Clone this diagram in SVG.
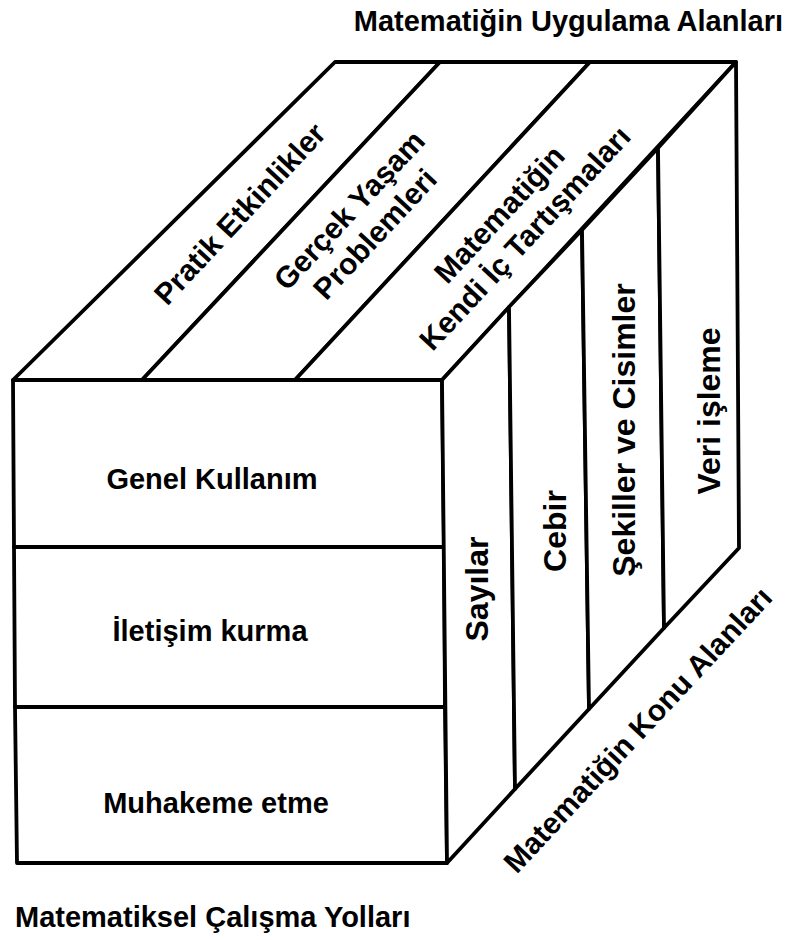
<svg xmlns="http://www.w3.org/2000/svg" width="791" height="940" viewBox="0 0 791 940">
<style>
.f{fill:#fff;stroke:#000;stroke-width:3.8;stroke-linejoin:round}
text{font-family:"Liberation Sans",Arial,Helvetica,sans-serif;font-weight:bold;fill:#000;font-size:29px}
.c{text-anchor:middle}
.r{font-size:32px}
.t{font-size:30px}
</style>
<rect width="791" height="940" fill="#fff"/>
<g id="top-face">
  <g id="pratik-etkinlikler">
    <polygon class="f" points="13,380 335,62 440,62 142,380"/>
    <text class="c t" transform="translate(240,214) rotate(-47)" dy="10">Pratik Etkinlikler</text>
  </g>
  <g id="gercek-yasam-problemleri">
    <polygon class="f" points="142,380 440,62 590,62 295,380"/>
    <text class="c t" transform="translate(362,222) rotate(-47)"><tspan x="0" y="-7">Gerçek Yaşam</tspan><tspan x="0" y="28">Problemleri</tspan></text>
  </g>
  <g id="matematigin-kendi-ic-tartismalari">
    <polygon class="f" points="295,380 590,62 736,62 442,380"/>
    <text class="c t" transform="translate(512,226) rotate(-47)"><tspan x="0" y="-7">Matematiğin</tspan><tspan x="0" y="28">Kendi İç Tartışmaları</tspan></text>
  </g>
</g>
<g id="front-face">
  <g id="genel-kullanim">
    <polygon class="f" points="13,380 442,380 444,547 14,547"/>
    <text class="c" x="212" y="489">Genel Kullanım</text>
  </g>
  <g id="iletisim-kurma">
    <polygon class="f" points="14,547 444,547 445,707 15,707"/>
    <text class="c" x="210" y="641">İletişim kurma</text>
  </g>
  <g id="muhakeme-etme">
    <polygon class="f" points="15,707 445,707 447,863 17,863"/>
    <text class="c" x="216" y="813">Muhakeme etme</text>
  </g>
</g>
<g id="right-face">
  <g id="sayilar">
    <polygon class="f" points="442,380 509,307 515,789 447,863"/>
    <text class="c r" transform="translate(477,589) rotate(-90)" dy="11">Sayılar</text>
  </g>
  <g id="cebir">
    <polygon class="f" points="509,307 582,230 589,709 515,789"/>
    <text class="c r" transform="translate(555,531) rotate(-90)" dy="11">Cebir</text>
  </g>
  <g id="sekiller-ve-cisimler">
    <polygon class="f" points="582,230 658,148 664,628 589,709"/>
    <text class="c r" transform="translate(624,430) rotate(-90)" dy="11">Şekiller ve Cisimler</text>
  </g>
  <g id="veri-isleme">
    <polygon class="f" points="658,148 736,62 739,548 664,628"/>
    <text class="c r" transform="translate(709,411) rotate(-90)" dy="11">Veri işleme</text>
  </g>
</g>
<g id="connectors"></g>
<g id="axis-labels">
  <text id="label-uygulama" x="783" y="31" text-anchor="end">Matematiğin Uygulama Alanları</text>
  <text id="label-konu" class="c t" transform="translate(638,730) rotate(-47)" dy="10">Matematiğin Konu Alanları</text>
  <text id="label-calisma" x="15" y="927">Matematiksel Çalışma Yolları</text>
</g>
</svg>
